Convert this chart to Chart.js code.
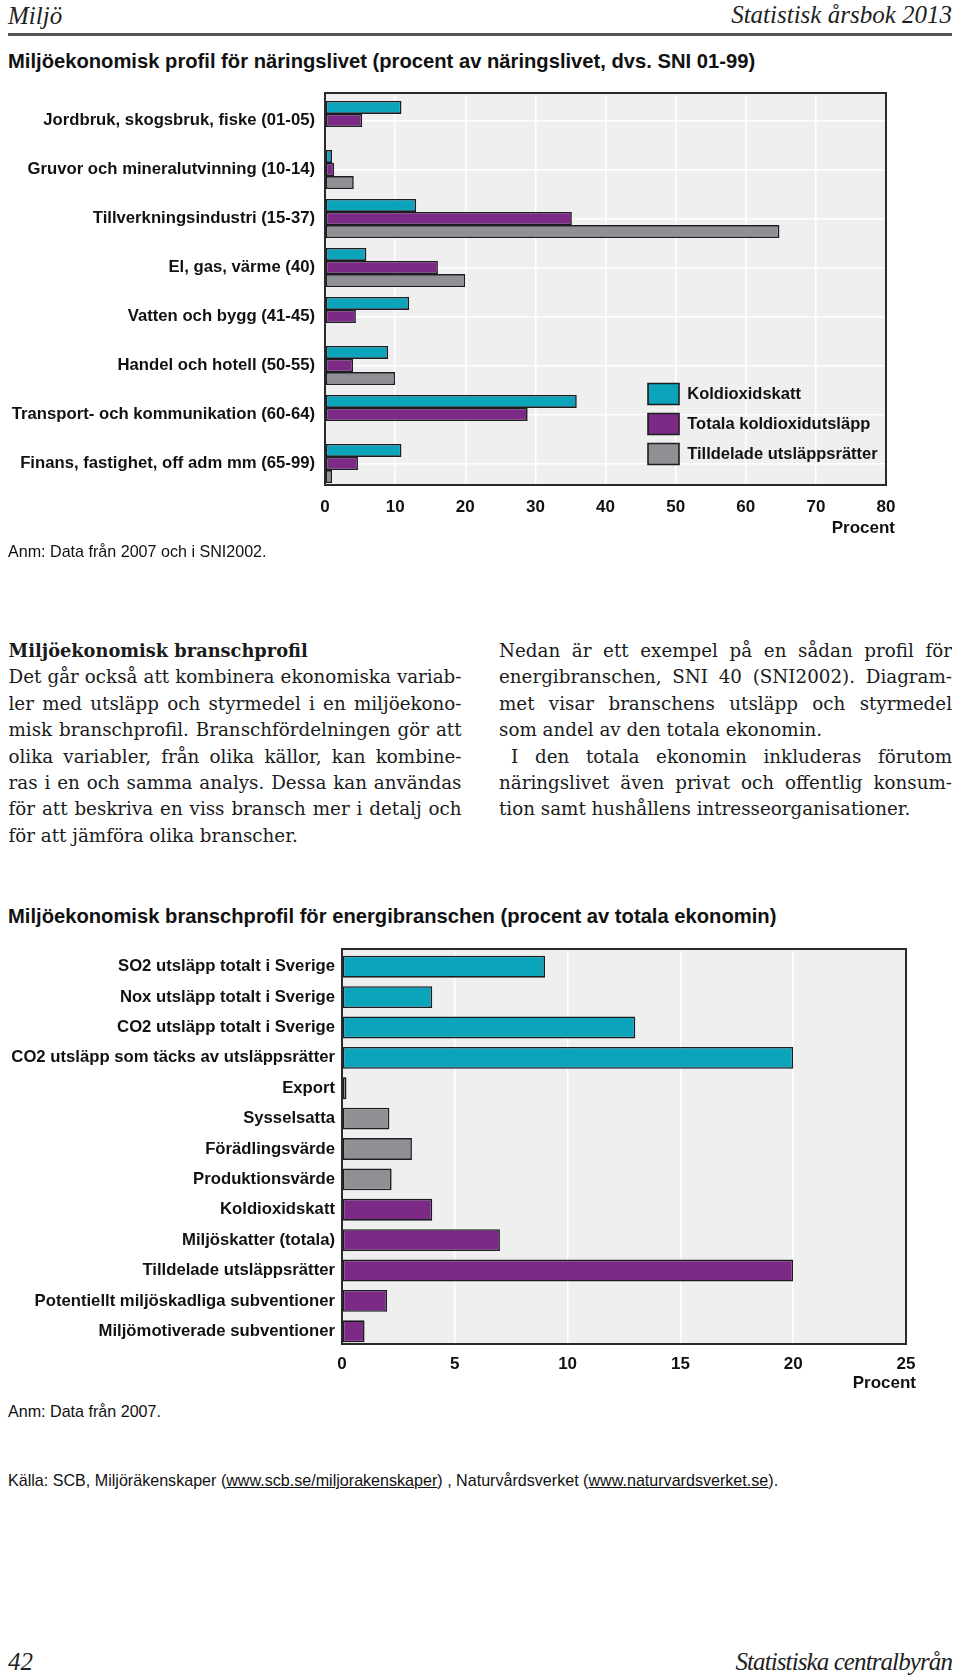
<!DOCTYPE html>
<html><head><meta charset="utf-8">
<script src="https://cdn.jsdelivr.net/npm/chart.js@4.4.0/dist/chart.umd.min.js"></script>
<style>
html,body{margin:0;padding:0;background:#fff;}
body{width:960px;height:1679px;position:relative;overflow:hidden;font-family:'Liberation Sans',Arial,sans-serif;color:#111;}
.abs{position:absolute;white-space:nowrap;}
.hdr{font-family:'Liberation Serif',serif;font-style:italic;font-size:25px;line-height:30px;color:#222;}
.title{font-weight:bold;font-size:20.2px;line-height:24px;color:#111;}
.note{font-size:16.1px;line-height:20px;color:#111;}
.axt{font-weight:bold;font-size:17px;line-height:20px;color:#111;text-align:right;}
.col{position:absolute;font-family:'DejaVu Serif',serif;font-size:18.3px;color:#1a1a1a;}
.col div{height:26.4px;line-height:26.4px;text-align:justify;text-align-last:justify;overflow:hidden;}
.col div.last{text-align:left;text-align-last:left;}
.col div.head{font-weight:bold;text-align:left;text-align-last:left;font-size:17.8px;}
.col div.ind{text-indent:12px;}
u{text-decoration:underline;}
</style>
</head><body>
<div class="abs hdr" style="left:8px;top:1px;">Miljö</div>
<div class="abs hdr" style="right:8px;top:0px;">Statistisk årsbok 2013</div>
<div class="abs" style="left:8px;top:33px;width:944px;height:2.5px;background:#555;"></div>

<div class="abs title" style="left:8px;top:49px;">Miljöekonomisk profil för näringslivet (procent av näringslivet, dvs. SNI 01-99)</div>
<canvas id="c1" class="abs" style="left:0;top:80px;" width="960" height="470"></canvas>
<div class="abs axt" style="right:65px;top:518px;">Procent</div>
<div class="abs note" style="left:8px;top:541px;">Anm: Data från 2007 och i SNI2002.</div>

<div class="col" style="left:8.5px;top:638px;width:453px;">
<div class="head">Miljöekonomisk branschprofil</div>
<div>Det går också att kombinera ekonomiska variab-</div>
<div>ler med utsläpp och styrmedel i en miljöekono-</div>
<div>misk branschprofil. Branschfördelningen gör att</div>
<div>olika variabler, från olika källor, kan kombine-</div>
<div>ras i en och samma analys. Dessa kan användas</div>
<div>för att beskriva en viss bransch mer i detalj och</div>
<div class="last">för att jämföra olika branscher.</div>
</div>
<div class="col" style="left:499px;top:638px;width:453px;">
<div>Nedan är ett exempel på en sådan profil för</div>
<div>energibranschen, SNI 40 (SNI2002). Diagram-</div>
<div>met visar branschens utsläpp och styrmedel</div>
<div class="last">som andel av den totala ekonomin.</div>
<div class="ind">I den totala ekonomin inkluderas förutom</div>
<div>näringslivet även privat och offentlig konsum-</div>
<div class="last">tion samt hushållens intresseorganisationer.</div>
</div>

<div class="abs title" style="left:8px;top:904px;">Miljöekonomisk branschprofil för energibranschen (procent av totala ekonomin)</div>
<canvas id="c2" class="abs" style="left:0;top:931px;" width="960" height="470"></canvas>
<div class="abs axt" style="right:44px;top:1373px;">Procent</div>
<div class="abs note" style="left:8px;top:1401px;">Anm: Data från 2007.</div>
<div class="abs note" style="left:8px;top:1470px;">Källa: SCB, Miljöräkenskaper (<u>www.scb.se/miljorakenskaper</u>) , Naturvårdsverket (<u>www.naturvardsverket.se</u>).</div>

<div class="abs hdr" style="left:8px;top:1647px;">42</div>
<div class="abs hdr" style="right:8px;top:1647px;letter-spacing:-0.9px;">Statistiska centralbyrån</div>

<script>
// ---------- Data: chart 1 (procent av näringslivet) ----------
const industries = [
  "Jordbruk, skogsbruk, fiske (01-05)",
  "Gruvor och mineralutvinning (10-14)",
  "Tillverkningsindustri (15-37)",
  "El, gas, värme (40)",
  "Vatten och bygg (41-45)",
  "Handel och hotell (50-55)",
  "Transport- och kommunikation (60-64)",
  "Finans, fastighet, off adm mm (65-99)"
];
const seriesNames1 = ["Koldioxidskatt", "Totala koldioxidutsläpp", "Tilldelade utsläppsrätter"];
const koldioxidskatt   = [10.9, 1.0, 13.0, 5.9, 12.0, 9.0, 35.9, 10.9];
const totalaUtslapp    = [5.3, 1.3, 35.2, 16.1, 4.4, 4.0, 28.9, 4.7];
const tilldeladeRatter = [null, 4.1, 64.8, 20.0, null, 10.0, null, 1.0];
const axis1 = {min: 0, max: 80, step: 10};

// ---------- Data: chart 2 (procent av totala ekonomin) ----------
const profileLabels = [
  "SO2 utsläpp totalt i Sverige",
  "Nox utsläpp totalt i Sverige",
  "CO2 utsläpp totalt i Sverige",
  "CO2 utsläpp som täcks av utsläppsrätter",
  "Export",
  "Sysselsatta",
  "Förädlingsvärde",
  "Produktionsvärde",
  "Koldioxidskatt",
  "Miljöskatter (totala)",
  "Tilldelade utsläppsrätter",
  "Potentiellt miljöskadliga subventioner",
  "Miljömotiverade subventioner"
];
const profileValues = [9.0, 4.0, 13.0, 20.0, 0.2, 2.1, 3.1, 2.2, 4.0, 7.0, 20.0, 2.0, 1.0];
const profileGroup  = ["u","u","u","u","e","e","e","e","s","s","s","s","s"];
const axis2 = {min: 0, max: 25, step: 5};

// ---------- Styles ----------
const TEAL = '#0ba4bb', PURPLE = '#7c2a86', GREY = '#8e9093', EDGE = '#1c1c22';
const groupColor = {u: TEAL, e: GREY, s: PURPLE};
const SANS = "'Liberation Sans', Arial, sans-serif";
const INK = '#111';

// grey plot background + dark frame; the frame sits "shift" px above the category area
const bgFrame = {
  id: 'bgFrame',
  beforeDraw(chart, args, opts) {
    const {ctx, chartArea: a} = chart; const s = opts.shift || 0;
    ctx.save(); ctx.fillStyle = '#efefef';
    ctx.fillRect(a.left, a.top - s, a.right - a.left, a.bottom - a.top);
    ctx.restore();
  },
  afterDraw(chart, args, opts) {
    const {ctx, chartArea: a} = chart; const s = opts.shift || 0;
    ctx.save(); ctx.strokeStyle = '#2a2a2a'; ctx.lineWidth = 2;
    ctx.strokeRect(a.left, a.top - s, a.right - a.left, a.bottom - a.top);
    ctx.restore();
  }
};

// place the legend inside the plot, lower right
const legendPlace = {
  id: 'legendPlace',
  afterLayout(chart) {
    const lg = chart.legend;
    if (!lg) return;
    const p = lg.options.labels.padding;
    const w = lg.width, h = lg.height;
    lg.left = 648 - p; lg.right = lg.left + w;
    lg.top = (383.5 - 80) - p; lg.bottom = lg.top + h;
  }
};

function noVertPad(s) { s.paddingTop = 0; s.paddingBottom = 0; }

Chart.defaults.font.family = SANS;
Chart.defaults.color = INK;

new Chart(document.getElementById('c1'), {
  type: 'bar',
  data: {
    labels: industries,
    datasets: [
      {label: seriesNames1[0], data: koldioxidskatt, backgroundColor: TEAL},
      {label: seriesNames1[1], data: totalaUtslapp, backgroundColor: PURPLE},
      {label: seriesNames1[2], data: tilldeladeRatter, backgroundColor: GREY}
    ].map(d => Object.assign(d, {borderColor: EDGE, borderWidth: 1.6, borderSkipped: false,
                                  barPercentage: 1, categoryPercentage: 0.8}))
  },
  options: {
    indexAxis: 'y', responsive: false, animation: false, devicePixelRatio: 1,
    layout: {padding: {left: 0, right: 74, top: 16, bottom: 0}},
    plugins: {
      bgFrame: {shift: 3},
      legend: {position: 'chartArea', align: 'start',
        labels: {boxWidth: 31, boxHeight: 21, padding: 9, color: INK,
                 font: {family: SANS, size: 16.5, weight: 'bold'}}},
      tooltip: {enabled: false}
    },
    scales: {
      x: {min: axis1.min, max: axis1.max,
        ticks: {stepSize: axis1.step, padding: 9.5, color: INK, font: {size: 17, weight: 'bold'}},
        grid: {color: '#ffffff', lineWidth: 1.5, drawTicks: false},
        border: {display: false},
        afterFit(s) { s.height = 62; }
      },
      y: {
        ticks: {padding: 10, color: INK, font: {size: 16.7, weight: 'bold'}},
        grid: {color: '#ffffff', lineWidth: 1.5, offset: false, drawTicks: false},
        border: {display: false},
        afterFit(s) { s.width = 325; noVertPad(s); }
      }
    }
  },
  plugins: [bgFrame, legendPlace]
});

new Chart(document.getElementById('c2'), {
  type: 'bar',
  data: {
    labels: profileLabels,
    datasets: [{
      label: 'Energibranschen',
      data: profileValues,
      backgroundColor: profileGroup.map(g => groupColor[g]),
      borderColor: EDGE, borderWidth: 1.6, borderSkipped: false,
      barPercentage: 0.72, categoryPercentage: 1
    }]
  },
  options: {
    indexAxis: 'y', responsive: false, animation: false, devicePixelRatio: 1,
    layout: {padding: {left: 0, right: 54, top: 20.5, bottom: 0}},
    plugins: {bgFrame: {shift: 2.5}, legend: {display: false}, tooltip: {enabled: false}},
    scales: {
      x: {min: axis2.min, max: axis2.max,
        ticks: {stepSize: axis2.step, padding: 7.3, color: INK, font: {size: 17, weight: 'bold'}},
        grid: {color: '#ffffff', lineWidth: 1.5, drawTicks: false},
        border: {display: false},
        afterFit(s) { s.height = 54.5; }
      },
      y: {
        ticks: {padding: 7, color: INK, font: {size: 16.7, weight: 'bold'}},
        grid: {display: false, drawTicks: false},
        border: {display: false},
        afterFit(s) { s.width = 342; noVertPad(s); }
      }
    }
  },
  plugins: [bgFrame]
});
</script>
</body></html>
